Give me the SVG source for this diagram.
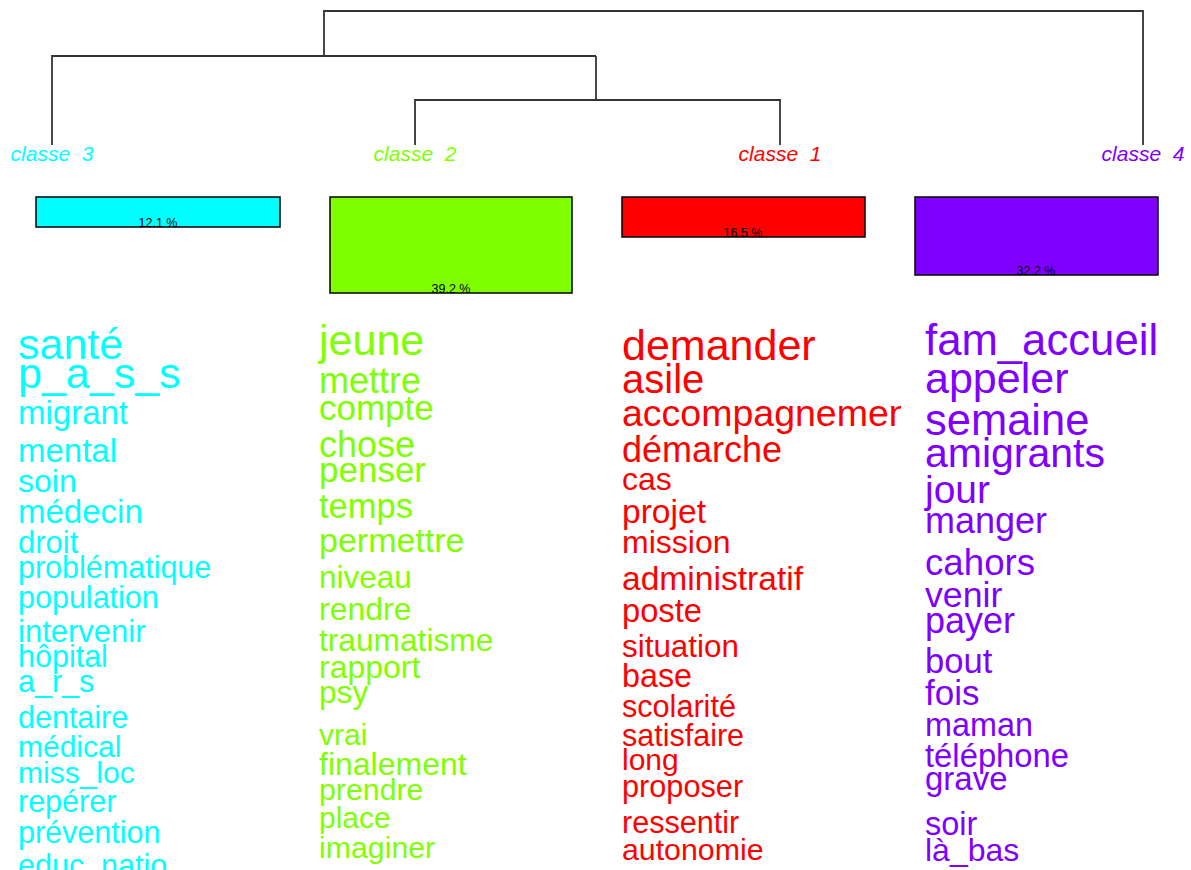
<svg xmlns="http://www.w3.org/2000/svg" width="1191" height="870" viewBox="0 0 1191 870">
<style>
text{font-family:"Liberation Sans",Arial,sans-serif}
.lbl{font-style:italic;font-size:21px;text-anchor:middle}
.pct{font-size:12.5px;text-anchor:middle;fill:#000}
.bar{stroke:#000;stroke-width:1.5}
.c3{fill:#00FFFF}.c2{fill:#80FF00}.c1{fill:#FF0000}.c4{fill:#8000FF}
.dendro{fill:none;stroke:#333;stroke-width:1.8}
</style>
<defs>
<clipPath id="clip1"><rect x="600" y="300" width="301" height="570"/></clipPath>
</defs>
<rect width="1191" height="870" fill="#fff"/>
<g id="connectors" class="dendro">
<path d="M52 145V56H596"/>
<path d="M324 56V11H1143V145"/>
<path d="M596 56V100"/>
<path d="M415 145V100H780V145"/>
</g>
<g id="classe3">
<text class="lbl c3" x="52" y="161" xml:space="preserve">classe  3</text>
<rect class="bar c3" x="36" y="197" width="244" height="30"/>
<text class="pct" x="158" y="227">12.1 %</text>
<g class="c3">
<text x="18" y="359" font-size="43">santé</text>
<text x="18" y="388" font-size="43">p_a_s_s</text>
<text x="18" y="424" font-size="33">migrant</text>
<text x="18" y="462" font-size="33">mental</text>
<text x="18" y="492" font-size="32">soin</text>
<text x="18" y="523" font-size="33">médecin</text>
<text x="18" y="553" font-size="31">droit</text>
<text x="18" y="578" font-size="30.5">problématique</text>
<text x="18" y="608" font-size="30.5">population</text>
<text x="18" y="642" font-size="31">intervenir</text>
<text x="18" y="667" font-size="30.5">hôpital</text>
<text x="18" y="692" font-size="30.5">a_r_s</text>
<text x="18" y="728" font-size="30.5">dentaire</text>
<text x="18" y="757" font-size="30">médical</text>
<text x="18" y="783" font-size="30">miss_loc</text>
<text x="18" y="812" font-size="30.5">repérer</text>
<text x="18" y="843" font-size="30.5">prévention</text>
<text x="18" y="876" font-size="30.5">educ_natio</text>
</g>
</g>
<g id="classe2">
<text class="lbl c2" x="415" y="161" xml:space="preserve">classe  2</text>
<rect class="bar c2" x="330" y="197" width="242" height="96"/>
<text class="pct" x="451" y="293">39.2 %</text>
<g class="c2">
<text x="319" y="355" font-size="43">jeune</text>
<text x="319" y="393" font-size="36">mettre</text>
<text x="319" y="420" font-size="35">compte</text>
<text x="319" y="457" font-size="36">chose</text>
<text x="319" y="482" font-size="35">penser</text>
<text x="319" y="518" font-size="34.5">temps</text>
<text x="319" y="552" font-size="34">permettre</text>
<text x="319" y="588" font-size="31.5">niveau</text>
<text x="319" y="620" font-size="32">rendre</text>
<text x="319" y="651" font-size="31.7">traumatisme</text>
<text x="319" y="678" font-size="32">rapport</text>
<text x="319" y="703" font-size="31.7">psy</text>
<text x="319" y="745" font-size="30">vrai</text>
<text x="319" y="775" font-size="32">finalement</text>
<text x="319" y="800" font-size="30.3">prendre</text>
<text x="319" y="828" font-size="30">place</text>
<text x="319" y="858" font-size="30.3">imaginer</text>
</g>
</g>
<g id="classe1">
<text class="lbl c1" x="780" y="161" xml:space="preserve">classe  1</text>
<rect class="bar c1" x="622" y="197" width="243" height="40"/>
<text class="pct" x="743" y="237">16.5 %</text>
<g class="c1" clip-path="url(#clip1)">
<text x="622" y="360" font-size="43">demander</text>
<text x="622" y="393" font-size="40">asile</text>
<text x="622" y="426" font-size="37.5">accompagnement</text>
<text x="622" y="462" font-size="36">démarche</text>
<text x="622" y="490" font-size="32">cas</text>
<text x="622" y="523" font-size="33.6">projet</text>
<text x="622" y="553" font-size="32">mission</text>
<text x="622" y="590" font-size="33.6">administratif</text>
<text x="622" y="622" font-size="32.7">poste</text>
<text x="622" y="657" font-size="31.4">situation</text>
<text x="622" y="687" font-size="32.3">base</text>
<text x="622" y="717" font-size="30.6">scolarité</text>
<text x="622" y="746" font-size="30.5">satisfaire</text>
<text x="622" y="770" font-size="30">long</text>
<text x="622" y="797" font-size="30.7">proposer</text>
<text x="622" y="833" font-size="30.6">ressentir</text>
<text x="622" y="860" font-size="30.3">autonomie</text>
</g>
</g>
<g id="classe4">
<text class="lbl c4" x="1143" y="161" xml:space="preserve">classe  4</text>
<rect class="bar c4" x="915" y="197" width="243" height="78"/>
<text class="pct" x="1036" y="275">32.2 %</text>
<g class="c4">
<text x="925" y="355" font-size="43.7">fam_accueil</text>
<text x="925" y="393" font-size="43">appeler</text>
<text x="925" y="435" font-size="43.5">semaine</text>
<text x="925" y="467" font-size="41">amigrants</text>
<text x="925" y="503" font-size="39">jour</text>
<text x="925" y="533" font-size="36">manger</text>
<text x="925" y="575" font-size="36.7">cahors</text>
<text x="925" y="607" font-size="35.7">venir</text>
<text x="925" y="633" font-size="36">payer</text>
<text x="925" y="673" font-size="34.6">bout</text>
<text x="925" y="705" font-size="35">fois</text>
<text x="925" y="736" font-size="32.4">maman</text>
<text x="925" y="767" font-size="32.8">téléphone</text>
<text x="925" y="790" font-size="33">grave</text>
<text x="925" y="835" font-size="32.5">soir</text>
<text x="925" y="861" font-size="32">là_bas</text>
</g>
</g>
</svg>
